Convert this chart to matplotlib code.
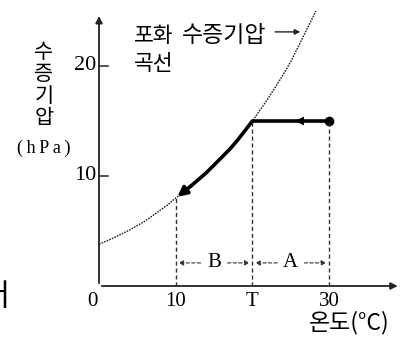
import matplotlib
matplotlib.use("Agg")
import matplotlib.pyplot as plt

KR = ["Noto Sans CJK KR", "DejaVu Sans"]
SERIF = ["Liberation Serif", "DejaVu Serif"]

# saturation vapour pressure curve (deg C, hPa)
curve_t = [0, 1, 2, 3, 4, 5, 6, 7, 8, 9, 10, 11, 12, 13, 14, 15, 16, 17, 18, 19, 20,
           21, 22, 23, 24, 25, 26, 27, 28, 28.3]
curve_p = [3.8, 4.1, 4.4, 4.75, 5.1, 5.5, 5.9, 6.4, 6.9, 7.4, 8.0, 8.5, 9.1, 9.7, 10.3,
           11.0, 11.7, 12.4, 13.2, 14.1, 15.0, 16.0, 17.0, 18.1, 19.2, 20.4, 21.8, 23.2,
           24.6, 25.1]

start_t, start_p = 30, 15     # air parcel
dew_t = 20                    # T
end_t = 10.2                  # end of cooling path

yticks = [10, 20]
xtick_pos = [0, 10, 20, 30]
xtick_lab = ["0", "10", "T", "30"]

fig = plt.figure(figsize=(4.02, 3.41), dpi=100)
ax = fig.add_axes([99 / 402, 55 / 341, 303 / 402, 275 / 341])
ax.set_xlim(0, 39.5)
ax.set_ylim(0, 25)
ax.axis("off")

# axes with arrows
ax.annotate("", xy=(39.3, 0), xytext=(0, 0),
            arrowprops=dict(arrowstyle="-|>", lw=1.3, color="#222", mutation_scale=10))
ax.annotate("", xy=(0, 24.8), xytext=(0, 0),
            arrowprops=dict(arrowstyle="-|>", lw=1.3, color="#222", mutation_scale=10))

# ticks on y axis
for v in yticks:
    ax.plot([0, 1.2], [v, v], color="#222", lw=1.1)
    ax.text(-0.3, v, str(v), ha="right", va="center", fontsize=16, family=SERIF)

for pos, lab in zip(xtick_pos, xtick_lab):
    ax.text(pos - (0.8 if pos == 0 else 0), -1.45, lab, ha="center", va="center",
            fontsize=15, family=SERIF)

# saturation curve (fine dotted)
ax.plot(curve_t, curve_p, color="#222", lw=1.0, ls=(0, (1.2, 0.8)))

# thick cooling path
ax.plot([start_t, dew_t], [start_p, start_p], color="black", lw=2.6, solid_capstyle="butt")
ax.plot([start_t], [start_p], "o", color="black", ms=6)
ax.annotate("", xy=(25.2, start_p), xytext=(26.5, start_p),
            arrowprops=dict(arrowstyle="-|>", lw=0, color="black", mutation_scale=16))
path_t = [t for t in curve_t if 12 <= t <= dew_t]
path_p = [p for t, p in zip(curve_t, curve_p) if 12 <= t <= dew_t]
ax.plot(path_t, path_p, color="black", lw=2.6, solid_capstyle="round",
        solid_joinstyle="round")
ax.annotate("", xy=(end_t, 8.1), xytext=(path_t[0], path_p[0]),
            arrowprops=dict(arrowstyle="-|>", lw=2.6, color="black", mutation_scale=14,
                            shrinkA=0, shrinkB=0))

# dashed guides
dash = dict(color="#333", lw=1.0, ls=(0, (3, 2)))
ax.plot([10, 10], [0, 8.0], **dash)
ax.plot([dew_t, dew_t], [0, start_p], **dash)
ax.plot([start_t, start_t], [0, start_p], **dash)

ay = 2.1
for a, b, lab in [(10, dew_t, "B"), (dew_t, start_t, "A")]:
    mid = (a + b) / 2
    for end in (a, b):
        sgn = 1 if end > mid else -1
        ax.annotate("", xy=(end, ay), xytext=(mid + sgn * 1.4, ay),
                    arrowprops=dict(arrowstyle="-|>", lw=0.8, color="#333",
                                    ls=(0, (3, 2)), mutation_scale=7))
    ax.text(mid, ay, lab, ha="center", va="center", fontsize=15, family=SERIF)

# labels
fig.text(44 / 402, 1 - 41 / 341, "수\n증\n기\n압", ha="center", va="top",
         fontsize=15, family=KR, linespacing=1.0)
fig.text(44 / 402, 1 - 148 / 341, "(\u2009h\u2009P\u2009a\u2009)", ha="center",
         va="center", fontsize=13, family=SERIF)
fig.text(134 / 402, 1 - 36 / 341, "포화", ha="left", va="center",
         fontsize=15.5, family=KR)
fig.text(182 / 402, 1 - 36 / 341, "수증기압", ha="left", va="center",
         fontsize=16.5, family=KR)
fig.text(134 / 402, 1 - 64 / 341, "곡선", ha="left", va="center",
         fontsize=15.5, family=KR)
fig.text(390 / 402, 1 - 323 / 341, "온도(°C)", ha="right", va="center",
         fontsize=16.5, family=KR)
ax.annotate("", xy=(26.6, 23.1), xytext=(22.6, 23.1),
            arrowprops=dict(arrowstyle="-|>", lw=1.0, color="#222", mutation_scale=8))
fig.text(10 / 402, 1 - 298 / 341, "서", ha="right", va="center",
         fontsize=22, family=KR)

fig.savefig("out.png", dpi=100)
